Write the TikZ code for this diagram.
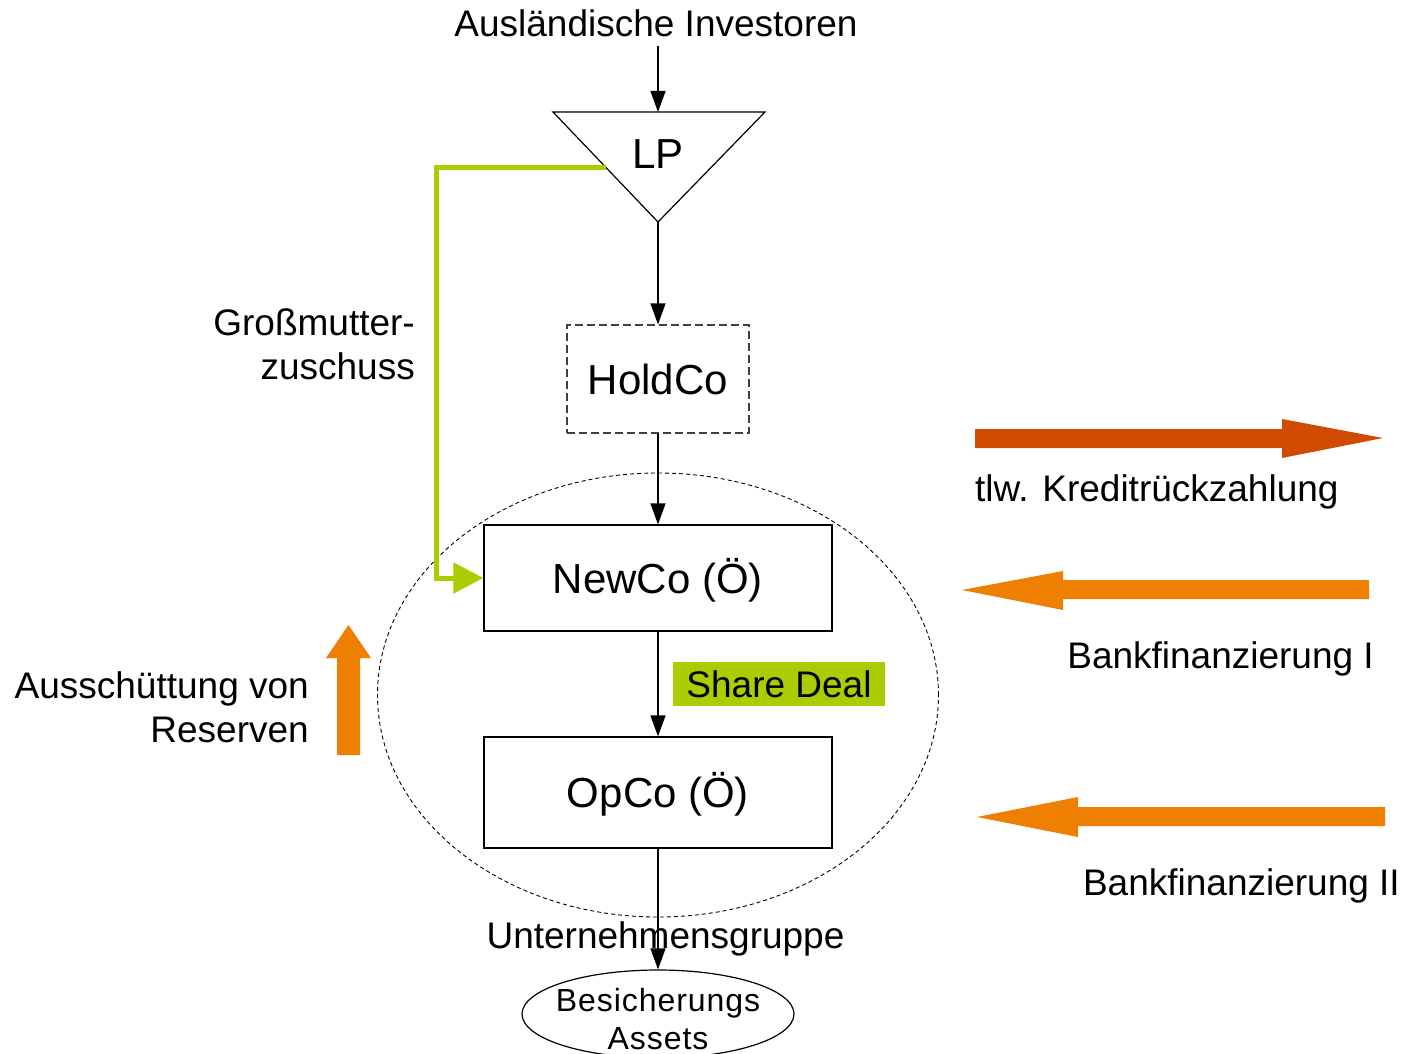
\documentclass[tikz,border=0pt]{standalone}
\usepackage{fontspec}
\setmainfont{Liberation Sans}
\usetikzlibrary{arrows.meta,shapes.geometric}
\definecolor{lime}{HTML}{AACC00}
\definecolor{rust}{HTML}{D04A02}
\definecolor{orng}{HTML}{EE7F00}
\newfontfamily\besfont[LetterSpace=3]{Liberation Sans}
\tikzset{
  lbl/.style={inner sep=0pt,font=\fontsize{37}{44}\selectfont},
  boxfont/.style={font=\fontsize{42}{50}\selectfont,text height=30pt,text depth=0pt},
  entity/.style={draw,line width=1.2pt,rectangle,boxfont},
  arr/.style={line width=1.2pt,-{Triangle[length=21pt,width=15pt]}},
  plain/.style={line width=1.2pt},
  greenline/.style={draw=lime,line width=5pt,-{Triangle[length=30pt,width=30pt]}},
  beslbl/.style={inner sep=0pt,anchor=base,font=\besfont\fontsize{32}{36}\selectfont},
}
\begin{document}
\begin{tikzpicture}[x=1pt,y=-1pt]
\useasboundingbox (0,0) rectangle (1406,1054);
% group ellipse
\node[draw,dashed,dash pattern=on 4pt off 3pt,line width=0.9pt,ellipse,minimum width=561pt,minimum height=444pt] (grp) at (658,695) {};
% title
\node[lbl,anchor=base] (inv) at (656,37) {Ausländische Investoren};
\coordinate (invb) at ([yshift=-8pt]inv.south);
% triangle LP
\coordinate (LPtop) at (658,112);
\coordinate (LPbot) at (658,222);
\coordinate (gstart) at (606,168);
\coordinate (gcorner) at (436,168);
\draw[plain,fill=white] (553,112) -- (765,112) -- (LPbot) -- cycle;
\node[boxfont,inner sep=0pt] (LP) at (658,153) {LP};
% boxes
\node[draw=black!75,line width=1.2pt,dashed,dash pattern=on 8pt off 4pt,boxfont,minimum width=182pt,minimum height=108pt] (hold) at (658,379) {HoldCo};
\node[entity,fill=white,minimum width=348pt,minimum height=106pt] (newco) at (658,578) {NewCo (Ö)};
\node[entity,fill=white,minimum width=348pt,minimum height=111pt] (opco) at (658,792.5) {OpCo (Ö)};
\node[draw,line width=1.2pt,ellipse,minimum width=272pt,minimum height=88pt] (bes) at (658,1014) {};
\node[beslbl] (besA) at (658,1011) {Besicherungs};
\node[beslbl] (besB) at (658,1049) {Assets};
% connectors
\draw[arr] (invb -| LPtop) -- (LPtop);
\draw[arr] (LPbot) -- (hold.north);
\draw[arr] (hold.south) -- (newco.north);
\draw[arr] (newco.south) -- (opco.north);
\draw[arr] (opco.south) -- (bes.north);
\draw[greenline] (gstart) -- (gcorner) |- (newco.west);
% labels
\node[fill=lime,minimum width=212pt,minimum height=44pt,inner sep=0pt] (share) at (779,683.5) {};
\node[lbl,anchor=base] (shareT) at (779,697) {Share Deal};
\node[lbl,anchor=base east] (gm1) at (415,335) {Großmutter-};
\node[lbl,anchor=base east] (gm2) at (415,379) {zuschuss};
\node[lbl,anchor=base east] (au1) at (309,698) {Ausschüttung von};
\node[lbl,anchor=base east] (au2) at (309,742) {Reserven};
\node[lbl,anchor=base] (ug) at (665.5,948) {Unternehmensgruppe};
\node[lbl,anchor=base west] (kr) at (975,501) {tlw. Kreditrückzahlung};
\node[lbl,anchor=base east] (b1) at (1374,668) {Bankfinanzierung I};
\node[lbl,anchor=base east] (b2) at (1400,895) {Bankfinanzierung II};
% big arrows
\fill[rust] (975,429) -- (1282,429) -- (1282,419) -- (1383,438) -- (1282,458) -- (1282,448) -- (975,448) -- cycle;
\fill[orng] (1369,580) -- (1063,580) -- (1063,571) -- (962,590) -- (1063,610) -- (1063,599) -- (1369,599) -- cycle;
\fill[orng] (1385,807) -- (1078,807) -- (1078,797) -- (977,817) -- (1078,837) -- (1078,826) -- (1385,826) -- cycle;
\fill[orng] (337,755) -- (337,658) -- (326,658) -- (348.5,625) -- (371,658) -- (360,658) -- (360,755) -- cycle;
\end{tikzpicture}
\end{document}
